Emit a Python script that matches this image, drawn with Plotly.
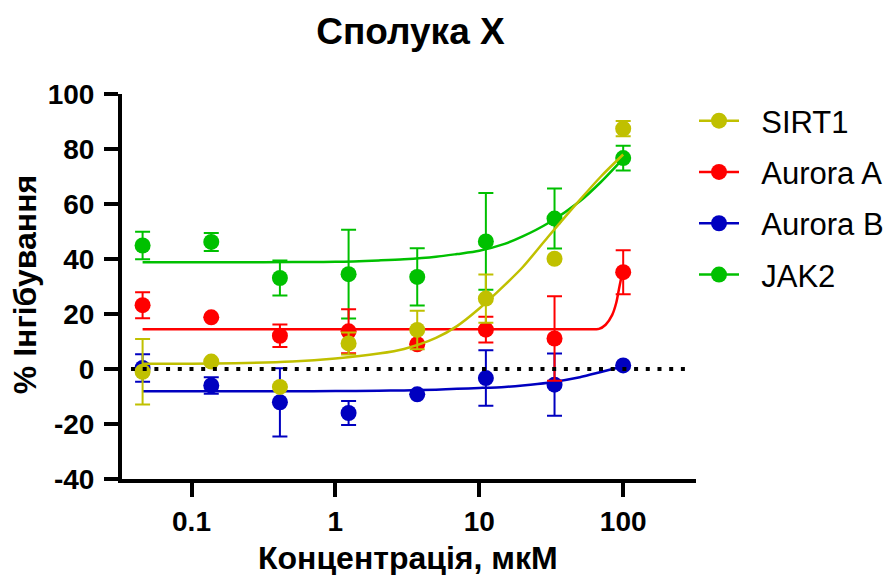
import plotly.graph_objects as go

# ---- data ----
conc = [0.04572, 0.1372, 0.4115, 1.235, 3.704, 11.11, 33.33, 100.0]

series_names = ["SIRT1", "Aurora A", "Aurora B", "JAK2"]
series_colors = ["#C0C000", "#FF0000", "#0000C0", "#00C000"]

sirt1_mean = [-1.0, 2.7, -6.5, 9.3, 14.2, 25.6, 40.1, 87.4]
sirt1_err = [11.9, 0, 0, 4.0, 7.0, 8.8, 0, 2.8]
aura_mean = [23.2, 18.8, 12.1, 13.7, 9.0, 14.3, 11.1, 35.2]
aura_err = [4.7, 0, 4.1, 8.0, 0, 4.7, 15.4, 8.0]
aurb_mean = [0.4, -6.0, -12.1, -16.0, -9.2, -3.3, -5.7, 1.3]
aurb_err = [5.0, 3.0, 12.4, 4.4, 0, 10.1, 11.3, 0]
jak2_mean = [44.9, 46.2, 33.1, 34.5, 33.5, 46.4, 54.7, 76.7]
jak2_err = [5.0, 3.3, 6.4, 16.1, 10.4, 17.6, 10.9, 4.5]

# fitted curves
fit_x = [0.04572, 0.1, 0.2, 0.5, 1, 2, 3, 5, 7, 10, 15, 20, 30, 50, 70, 100]
sirt1_fit = [1.9, 1.95, 2.1, 2.7, 3.8, 5.6, 7.3, 11.3, 15.6, 22.0, 30.5, 37.0, 48.0, 61.5, 70.0, 78.0]
jak2_fit = [38.8, 38.8, 38.8, 38.9, 39.0, 39.5, 39.9, 40.8, 41.8, 43.0, 45.5, 48.2, 53.0, 61.0, 68.0, 76.5]
aurb_fit = [-8.1, -8.1, -8.1, -8.1, -8.0, -7.9, -7.8, -7.5, -7.2, -6.9, -6.5, -6.0, -5.0, -3.0, -1.1, 1.0]
aura_fit_x = [0.04572, 1.0, 10.0, 50.0, 67.9, 75.5, 83.9, 89.4, 93.3, 97.4, 100.0]
aura_fit = [14.5, 14.5, 14.5, 14.5, 14.6, 16.1, 19.7, 24.0, 28.8, 33.6, 35.5]

x_tickvals = [0.1, 1, 10, 100]
x_ticktext = ["0.1", "1", "10", "100"]
y_tickvals = [-40, -20, 0, 20, 40, 60, 80, 100]
y_ticktext = ["-40", "-20", "0", "20", "40", "60", "80", "100"]

title_text = "Сполука X"
x_title = "Концентрація, мкМ"
y_title = "% Інгібування"

FONT = "Liberation Sans, Arial, sans-serif"
NB = "\u00a0\u00a0"  # small gap between legend symbol and text

# the page body adds an 8px offset at top/left
W, H = 892, 567
ML, MR, MT, MB = 114, 203, 86, 96
PW, PH = W - ML - MR, H - MT - MB
OFF = 8

def px_x(ax):  # absolute window pixel -> paper x
    return (ax - OFF - ML) / PW

def px_y(ay):  # absolute window pixel -> paper y
    return (PH - (ay - OFF - MT)) / PH

fig = go.Figure()

points = {
    "SIRT1": (sirt1_mean, sirt1_err, fit_x, sirt1_fit),
    "Aurora A": (aura_mean, aura_err, aura_fit_x, aura_fit),
    "Aurora B": (aurb_mean, aurb_err, fit_x, aurb_fit),
    "JAK2": (jak2_mean, jak2_err, fit_x, jak2_fit),
}
color_of = dict(zip(series_names, series_colors))

# drawing order: JAK2 bottom ... SIRT1 top
for name in ["JAK2", "Aurora B", "Aurora A", "SIRT1"]:
    mean, err, fx, fy = points[name]
    c = color_of[name]
    fig.add_trace(go.Scatter(
        x=fx, y=fy, mode="lines", line=dict(color=c, width=2.5, shape="spline", smoothing=0.8),
        showlegend=False, hoverinfo="skip", cliponaxis=False))
    fig.add_trace(go.Scatter(
        x=conc, y=mean, mode="markers",
        marker=dict(color=c, size=16, line=dict(width=0)),
        error_y=dict(type="data", array=err, visible=True, color=c, thickness=2, width=7.5),
        showlegend=False, cliponaxis=False))

# legend entries
for i, name in enumerate(series_names):
    c = series_colors[i]
    fig.add_trace(go.Scatter(
        x=[None], y=[None], mode="lines+markers", name=NB + name, legendgroup=name,
        line=dict(color=c, width=2.5), marker=dict(color=c, size=16), legendrank=i + 1))

fig.add_shape(type="line", xref="paper", yref="y", x0=px_x(131), x1=px_x(691), y0=0, y1=0,
              line=dict(color="black", width=4, dash="4px,7.7px"))

fig.update_layout(
    width=W, height=H,
    margin=dict(l=ML, r=MR, t=MT, b=MB),
    paper_bgcolor="white", plot_bgcolor="white",
    font=dict(family=FONT, color="black"),
    title=dict(text="<b>" + title_text + "</b>", x=px_x(411), xref="paper", xanchor="center",
               y=1 - (31.5 - OFF) / H, yref="container", yanchor="middle",
               font=dict(size=37, family=FONT, color="black")),
    showlegend=True,
    legend=dict(x=px_x(694), xanchor="left", y=1.0, yanchor="top",
                font=dict(size=31, family=FONT, color="black"),
                traceorder="grouped", tracegroupgap=8, itemwidth=40,
                bgcolor="rgba(0,0,0,0)"),
    xaxis=dict(type="log", range=[-1.483, 2.506], showgrid=False, zeroline=False,
               showline=True, linecolor="black", linewidth=4,
               ticks="outside", ticklen=14, tickwidth=4, tickcolor="black",
               tickvals=x_tickvals, ticktext=x_ticktext,
               tickfont=dict(size=28, family=FONT, color="black", weight="bold")),
    yaxis=dict(range=[-40, 100], showgrid=False, zeroline=False,
               showline=True, linecolor="black", linewidth=4,
               ticks="outside", ticklen=14, tickwidth=4, tickcolor="black",
               tickvals=y_tickvals, ticktext=y_ticktext, ticklabelstandoff=4,
               tickfont=dict(size=28, family=FONT, color="black", weight="bold")),
    annotations=[
        dict(text="<b>" + x_title + "</b>", xref="paper", yref="paper",
             x=px_x(408), y=px_y(558), xanchor="center", yanchor="middle",
             showarrow=False, font=dict(size=32, family=FONT, color="black")),
        dict(text="<b>" + y_title + "</b>", xref="paper", yref="paper",
             x=px_x(25), y=px_y(285), xanchor="center", yanchor="middle",
             textangle=-90,
             showarrow=False, font=dict(size=32, family=FONT, color="black")),
    ],
)

fig.write_html("out.html")
